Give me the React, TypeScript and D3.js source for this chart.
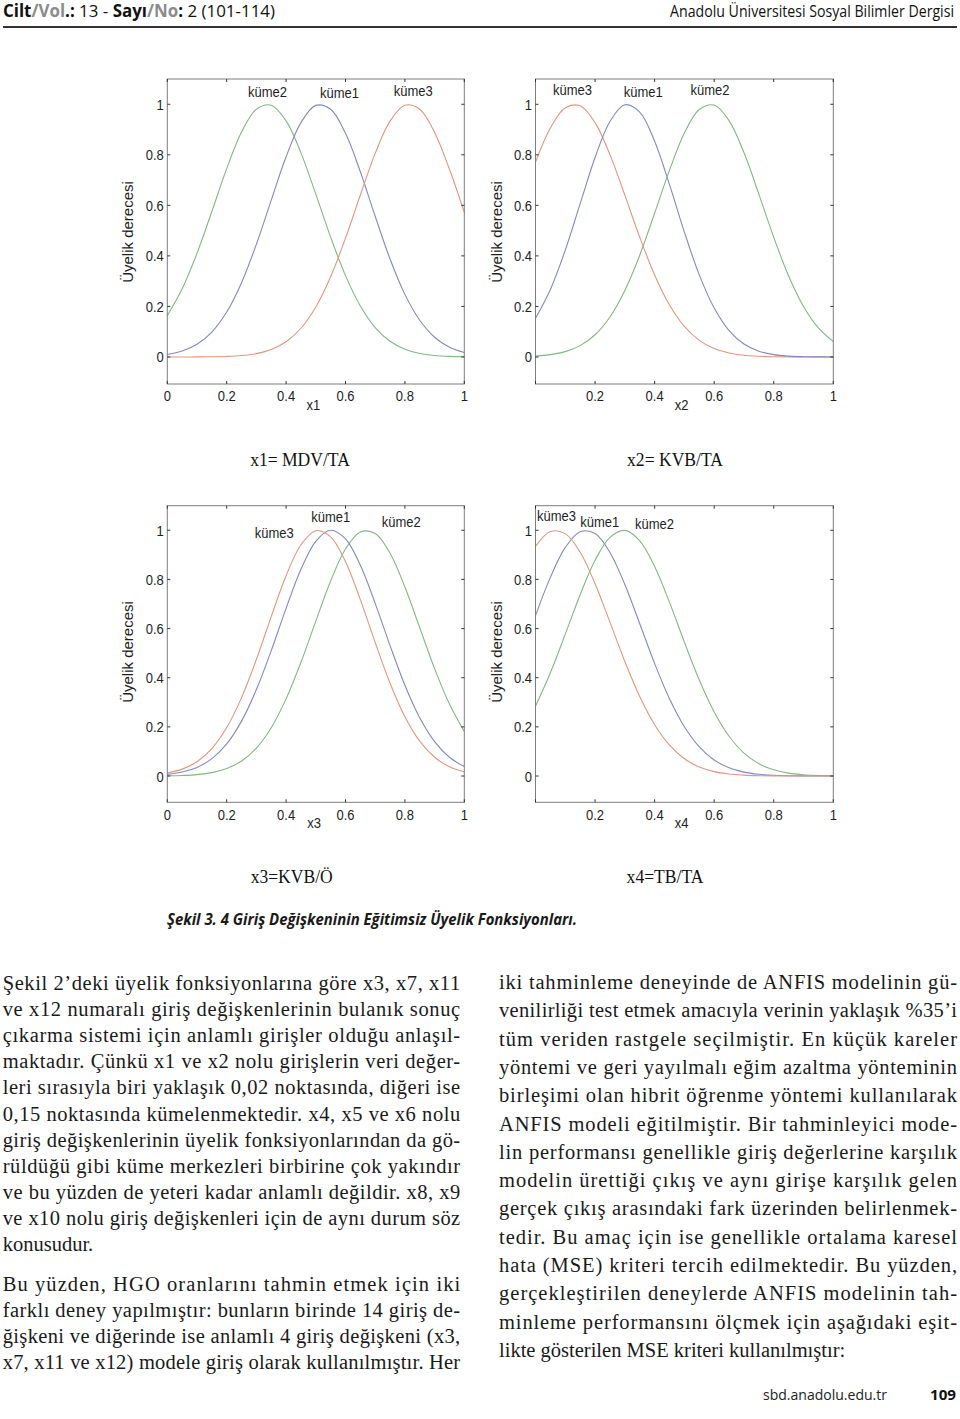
import React from 'react';
import * as d3 from 'd3';

// ---------- DATA ----------
const xGrid = [0, 0.05, 0.1, 0.15, 0.2, 0.25, 0.3, 0.35, 0.4, 0.45, 0.5, 0.55, 0.6, 0.65, 0.7, 0.75, 0.8, 0.85, 0.9, 0.95, 1];

// x1 = MDV/TA
const x1Kume2 = [0.1634, 0.2695, 0.4101, 0.5756, 0.7451, 0.8899, 0.9804, 0.9964, 0.9341, 0.8078, 0.6444, 0.4742, 0.3219, 0.2016, 0.1164, 0.062, 0.0305, 0.0138, 0.0058, 0.0022, 0.0008];
const x1Kume1 = [0.01, 0.0234, 0.0501, 0.0985, 0.1777, 0.294, 0.4461, 0.6208, 0.7923, 0.9274, 0.9956, 0.9802, 0.8851, 0.7329, 0.5567, 0.3878, 0.2477, 0.1451, 0.078, 0.0384, 0.0174];
const x1Kume3 = [0, 0.0001, 0.0002, 0.0007, 0.0021, 0.0055, 0.0132, 0.0293, 0.0601, 0.1136, 0.1979, 0.3177, 0.4701, 0.6411, 0.8058, 0.9333, 0.9963, 0.9802, 0.8887, 0.7426, 0.5719];

// x2 = KVB/TA
const x2Kume3 = [0.7704, 0.906, 0.9862, 0.9938, 0.9272, 0.8007, 0.6402, 0.4738, 0.3247, 0.2059, 0.1209, 0.0657, 0.0331, 0.0154, 0.0066, 0.0027, 0.001, 0.0003, 0.0001, 0, 0];
const x2Kume1 = [0.153, 0.2671, 0.4226, 0.6065, 0.7895, 0.9321, 0.9981, 0.9692, 0.8537, 0.6819, 0.4941, 0.3247, 0.1935, 0.1046, 0.0513, 0.0228, 0.0092, 0.0034, 0.0011, 0.0003, 0.0001];
const x2Kume2 = [0.0037, 0.0092, 0.0211, 0.0449, 0.0878, 0.1583, 0.263, 0.4028, 0.5685, 0.7393, 0.8862, 0.9791, 0.9968, 0.9353, 0.8088, 0.6446, 0.4735, 0.3205, 0.1999, 0.115, 0.0609];

// x3 = KVB/Ö
const x3Kume3 = [0.0123, 0.028, 0.0583, 0.1119, 0.1971, 0.319, 0.4746, 0.6488, 0.8151, 0.941, 0.9983, 0.9733, 0.8721, 0.718, 0.5433, 0.3777, 0.2414, 0.1417, 0.0765, 0.038, 0.0173];
const x3Kume1 = [0.0068, 0.0161, 0.0351, 0.0705, 0.1307, 0.2234, 0.3517, 0.5103, 0.6824, 0.841, 0.9552, 0.9999, 0.9646, 0.8576, 0.7027, 0.5307, 0.3693, 0.2369, 0.14, 0.0763, 0.0383];
const x3Kume2 = [0.0008, 0.0023, 0.0058, 0.0138, 0.0302, 0.061, 0.1139, 0.1967, 0.3138, 0.4627, 0.6303, 0.7937, 0.9235, 0.9931, 0.9868, 0.9062, 0.7691, 0.6031, 0.4371, 0.2928, 0.1812];

// x4 = TB/TA
const x4Kume3 = [0.9342, 0.9949, 0.9864, 0.9105, 0.7824, 0.626, 0.4663, 0.3234, 0.2088, 0.1255, 0.0702, 0.0366, 0.0177, 0.008, 0.0034, 0.0013, 0.0005, 0.0002, 0.0001, 0, 0];
const x4Kume1 = [0.6526, 0.8084, 0.9302, 0.9941, 0.9868, 0.9098, 0.7791, 0.6197, 0.4579, 0.3142, 0.2003, 0.1185, 0.0652, 0.0333, 0.0158, 0.007, 0.0028, 0.0011, 0.0004, 0.0001, 0];
const x4Kume2 = [0.2843, 0.42, 0.5772, 0.7379, 0.8777, 0.9712, 0.9996, 0.9572, 0.8527, 0.7067, 0.5448, 0.3907, 0.2607, 0.1618, 0.0934, 0.0502, 0.0251, 0.0117, 0.005, 0.002, 0.0008];

const yTicks = [0, 0.2, 0.4, 0.6, 0.8, 1];
const xTicksFull = [0, 0.2, 0.4, 0.6, 0.8, 1];
const xTicksNoZero = [0.2, 0.4, 0.6, 0.8, 1];

const headerRight = 'Anadolu Üniversitesi Sosyal Bilimler Dergisi';
const figureCaption = 'Şekil 3. 4 Giriş Değişkeninin Eğitimsiz Üyelik Fonksiyonları.';
const footerSite = 'sbd.anadolu.edu.tr';
const footerPage = '109';

const leftPara1 = [
  'Şekil 2’deki üyelik fonksiyonlarına göre x3, x7, x11',
  've x12 numaralı giriş değişkenlerinin bulanık sonuç',
  'çıkarma sistemi için anlamlı girişler olduğu anlaşıl-',
  'maktadır. Çünkü x1 ve x2 nolu girişlerin veri değer-',
  'leri sırasıyla biri yaklaşık 0,02 noktasında, diğeri ise',
  '0,15 noktasında kümelenmektedir. x4, x5 ve x6 nolu',
  'giriş değişkenlerinin üyelik fonksiyonlarından da gö-',
  'rüldüğü gibi küme merkezleri birbirine çok yakındır',
  've bu yüzden de yeteri kadar anlamlı değildir. x8, x9',
  've x10 nolu giriş değişkenleri için de aynı durum söz',
  'konusudur.',
];
const leftPara2 = [
  'Bu yüzden, HGO oranlarını tahmin etmek için iki',
  'farklı deney yapılmıştır: bunların birinde 14 giriş de-',
  'ğişkeni ve diğerinde ise anlamlı 4 giriş değişkeni (x3,',
  'x7, x11 ve x12) modele giriş olarak kullanılmıştır. Her',
];
const rightPara = [
  'iki tahminleme deneyinde de ANFIS modelinin gü-',
  'venilirliği test etmek amacıyla verinin yaklaşık %35’i',
  'tüm veriden rastgele seçilmiştir. En küçük kareler',
  'yöntemi ve geri yayılmalı eğim azaltma yönteminin',
  'birleşimi olan hibrit öğrenme yöntemi kullanılarak',
  'ANFIS modeli eğitilmiştir. Bir tahminleyici mode-',
  'lin performansı genellikle giriş değerlerine karşılık',
  'modelin ürettiği çıkış ve aynı girişe karşılık gelen',
  'gerçek çıkış arasındaki fark üzerinden belirlenmek-',
  'tedir. Bu amaç için ise genellikle ortalama karesel',
  'hata (MSE) kriteri tercih edilmektedir. Bu yüzden,',
  'gerçekleştirilen deneylerde ANFIS modelinin tah-',
  'minleme performansını ölçmek için aşağıdaki eşit-',
  'likte gösterilen MSE kriteri kullanılmıştır:',
];

// ---------- STYLE ----------
const BLUE = '#8289c6';
const GREEN = '#82b882';
const RED = '#e4967f';
const FRAME = '#7d7d7d';
const SANS = 'Liberation Sans, Arial, sans-serif';
const SERIF = 'Liberation Serif, Times New Roman, serif';
const HEAD = 'Open Sans, Noto Sans, sans-serif';

type Series = { vals: number[]; color: string };
type Label = { text: string; x: number; y: number };
type PanelCfg = {
  left: number; right: number; top: number; bottom: number;
  xTicks: number[]; series: Series[]; labels: Label[];
  xName: string; xNameX: number; caption: string; capX: number; capY: number;
  ylabX: number; ylabY: number;
};

const panels: PanelCfg[] = [
  {
    left: 167.3, right: 464.3, top: 79, bottom: 384, xTicks: xTicksFull,
    series: [{ vals: x1Kume2, color: GREEN }, { vals: x1Kume1, color: BLUE }, { vals: x1Kume3, color: RED }],
    labels: [{ text: 'küme2', x: 267.5, y: 96.7 }, { text: 'küme1', x: 339.5, y: 98.3 }, { text: 'küme3', x: 413.3, y: 95.7 }],
    xName: 'x1', xNameX: 313.3, caption: 'x1= MDV/TA', capX: 300, capY: 465.5, ylabX: 127.5, ylabY: 232,
  },
  {
    left: 535.5, right: 833.3, top: 79, bottom: 384, xTicks: xTicksNoZero,
    series: [{ vals: x2Kume3, color: RED }, { vals: x2Kume1, color: BLUE }, { vals: x2Kume2, color: GREEN }],
    labels: [{ text: 'küme3', x: 572.5, y: 95 }, { text: 'küme1', x: 643.3, y: 96.7 }, { text: 'küme2', x: 710, y: 95 }],
    xName: 'x2', xNameX: 681.7, caption: 'x2= KVB/TA', capX: 675, capY: 465.5, ylabX: 496, ylabY: 232,
  },
  {
    left: 167.3, right: 464.3, top: 505.7, bottom: 802.3, xTicks: xTicksFull,
    series: [{ vals: x3Kume2, color: GREEN }, { vals: x3Kume1, color: BLUE }, { vals: x3Kume3, color: RED }],
    labels: [{ text: 'küme3', x: 274.2, y: 538.3 }, { text: 'küme1', x: 330.8, y: 521.7 }, { text: 'küme2', x: 401.3, y: 527.3 }],
    xName: 'x3', xNameX: 314, caption: 'x3=KVB/Ö', capX: 291.7, capY: 883, ylabX: 127.5, ylabY: 652,
  },
  {
    left: 535.5, right: 833.3, top: 505.7, bottom: 802.3, xTicks: xTicksNoZero,
    series: [{ vals: x4Kume2, color: GREEN }, { vals: x4Kume1, color: BLUE }, { vals: x4Kume3, color: RED }],
    labels: [{ text: 'küme3', x: 556.5, y: 520.7 }, { text: 'küme1', x: 599.7, y: 526.7 }, { text: 'küme2', x: 654.5, y: 529.3 }],
    xName: 'x4', xNameX: 681.7, caption: 'x4=TB/TA', capX: 665, capY: 883, ylabX: 496, ylabY: 652,
  },
];

const Sq = ({ x, y, sx = 0.84, anchor = 'middle', size = 15.5, family = SANS, fill = '#1e1e1e', children }: any) => (
  <text transform={`translate(${x},${y}) scale(${sx},1)`} textAnchor={anchor} fontSize={size} fontFamily={family} fill={fill}>
    {children}
  </text>
);

function Panel({ p }: { p: PanelCfg }) {
  const x = d3.scaleLinear().domain([0, 1]).range([p.left, p.right]);
  const y = d3.scaleLinear().domain([-0.107, 1.1]).range([p.bottom, p.top]);
  const line = d3.line<number>()
    .x((_, i) => x(xGrid[i]))
    .y((d) => y(d))
    .curve(d3.curveCatmullRom.alpha(0.5));
  const tl = 3;
  return (
    <g>
      {p.series.map((s, i) => (
        <path key={i} d={line(s.vals) || ''} fill="none" stroke={s.color} strokeWidth={1.1} />
      ))}
      <rect x={p.left} y={p.top} width={p.right - p.left} height={p.bottom - p.top} fill="none" stroke={FRAME} strokeWidth={1} />
      {yTicks.map((t) => (
        <g key={'y' + t}>
          <line x1={p.left} x2={p.left + tl} y1={y(t)} y2={y(t)} stroke="#333" strokeWidth={1} />
          <line x1={p.right} x2={p.right - tl} y1={y(t)} y2={y(t)} stroke="#333" strokeWidth={1} />
          <Sq x={p.left - 3.5} y={y(t) + 5.5} anchor="end">{String(t)}</Sq>
        </g>
      ))}
      {xTicksFull.map((t) => (
        <g key={'x' + t}>
          <line x1={x(t)} x2={x(t)} y1={p.bottom} y2={p.bottom - tl} stroke="#333" strokeWidth={1} />
          <line x1={x(t)} x2={x(t)} y1={p.top} y2={p.top + tl} stroke="#333" strokeWidth={1} />
        </g>
      ))}
      {p.xTicks.map((t) => (
        <Sq key={'xl' + t} x={x(t)} y={p.bottom + 17.3}>{String(t)}</Sq>
      ))}
      <Sq x={p.xNameX} y={p.bottom + 26}>{p.xName}</Sq>
      {p.labels.map((l, i) => (
        <Sq key={'k' + i} x={l.x} y={l.y}>{l.text}</Sq>
      ))}
      <text transform={`translate(${p.ylabX},${p.ylabY}) rotate(-90)`} textAnchor="middle" dominantBaseline="central"
        fontSize={15} fontFamily={SANS} fill="#1e1e1e">Üyelik derecesi</text>
      <Sq x={p.capX} y={p.capY} sx={0.95} size={18.5} family={SERIF} fill="#111">{p.caption}</Sq>
    </g>
  );
}

function Para({ lines, x, w, y0, dy, justifyLast = false }: { lines: string[]; x: number; w: number; y0: number; dy: number; justifyLast?: boolean }) {
  return (
    <g>
      {lines.map((t, i) => {
        const last = i === lines.length - 1 && !justifyLast;
        return (
          <text key={i} x={x} y={y0 + i * dy} fontSize={20.5} fontFamily={SERIF} fill="#1a1a1a"
            {...(last ? {} : { textLength: w, lengthAdjust: 'spacing' })}>
            {t}
          </text>
        );
      })}
    </g>
  );
}

// scaled text block: the glyphs are drawn at width w/sx and then squeezed by sx
const Squeezed = ({ x, y, w, sx, size, weight = 400, italic = false, fill = '#111', children }: any) => (
  <text transform={`translate(${x},${y}) scale(${sx},1)`} fontSize={size} fontFamily={HEAD} fontWeight={weight}
    fontStyle={italic ? 'italic' : 'normal'} fill={fill} textLength={w / sx} lengthAdjust="spacingAndGlyphs">
    {children}
  </text>
);

export default function App() {
  return (
    <svg width={960} height={1419} viewBox="0 0 960 1419" style={{ position: 'absolute', left: 0, top: 0, display: 'block', background: '#fff' }}>
      <rect x={0} y={0} width={960} height={1419} fill="#fff" />
      {/* header */}
      <Squeezed x={3} y={17} w={272} sx={0.86} size={17}>
        <tspan fontWeight={700}>Cilt</tspan>
        <tspan fontWeight={700} fill="#8c8c8c">/Vol</tspan>
        <tspan fontWeight={700}>.:</tspan>
        <tspan> 13 - </tspan>
        <tspan fontWeight={700}>Sayı</tspan>
        <tspan fontWeight={700} fill="#8c8c8c">/No</tspan>
        <tspan fontWeight={700}>:</tspan>
        <tspan> 2 (101-114)</tspan>
      </Squeezed>
      <Squeezed x={670} y={17} w={284} sx={0.82} size={16.5}>{headerRight}</Squeezed>
      <line x1={3} x2={957} y1={27} y2={27} stroke="#333" strokeWidth={2} />

      {panels.map((p, i) => <Panel key={i} p={p} />)}

      <Squeezed x={167} y={924.5} w={410} sx={0.85} size={16} weight={700} italic fill="#1a1a1a">{figureCaption}</Squeezed>

      <Para lines={leftPara1} x={2.7} w={457.5} y0={990} dy={26.1} />
      <Para lines={leftPara2} x={2.7} w={457.5} y0={1291} dy={26.1} justifyLast />
      <Para lines={rightPara} x={499} w={458} y0={989} dy={28.3} />

      <Squeezed x={763} y={1400} w={124} sx={0.88} size={15} fill="#222">{footerSite}</Squeezed>
      <Squeezed x={930} y={1400} w={26} sx={0.88} size={15} weight={700}>{footerPage}</Squeezed>
    </svg>
  );
}
